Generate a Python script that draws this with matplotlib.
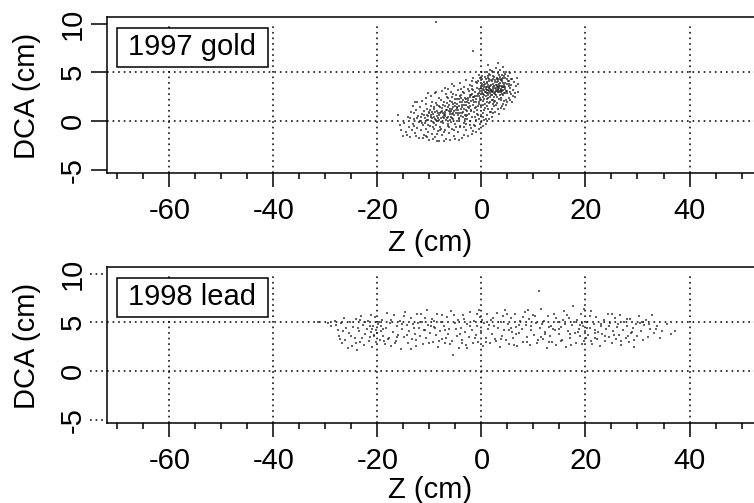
import matplotlib
matplotlib.use('Agg')
import matplotlib.pyplot as plt
from matplotlib.ticker import MultipleLocator

plt.rcParams['font.family'] = ['Liberation Sans', 'DejaVu Sans']
plt.rcParams['axes.unicode_minus'] = False

gold_points = [
    (-16.0,0.6),(-15.4,-0.9),(-15.1,-1.5),(-14.8,-0.2),(-14.6,-1.1),(-14.2,0.4),(-14.0,-0.6),(-13.7,-1.6),
    (-13.5,0.9),(-13.2,-0.3),(-13.0,0.2),(-12.8,-1.2),(-12.6,1.1),(-12.4,-0.7),(-12.2,0.5),(-12.1,-0.1),
    (-12.0,-1.7),(-11.8,1.4),(-11.7,0.0),(-11.6,-0.9),(-11.4,0.7),(-11.3,-0.4),(-11.1,1.0),(-11.0,-1.4),
    (-10.9,0.3),(-10.8,-0.2),(-10.7,1.7),(-10.6,-0.8),(-10.5,0.6),(-10.4,1.2),(-10.3,-1.1),(-10.2,0.1),
    (-10.1,-1.9),(-10.0,0.9),(-9.9,-0.5),(-9.8,1.5),(-9.7,0.4),(-9.6,-1.3),(-9.5,2.0),(-9.4,-0.1),
    (-9.3,0.7),(-9.2,-0.8),(-9.1,1.2),(-9.0,0.2),(-8.9,-1.6),(-8.8,1.8),(-8.7,-0.4),(-8.6,0.5),
    (-8.5,1.0),(-8.4,-1.0),(-8.3,0.0),(-8.2,1.5),(-8.1,-2.1),(-8.0,0.8),(-7.9,-0.6),(-7.8,2.2),
    (-7.7,0.3),(-7.6,-1.4),(-7.5,1.3),(-7.4,-0.2),(-7.3,0.6),(-7.2,1.9),(-7.1,-0.9),(-7.0,0.9),
    (-6.9,-1.8),(-6.8,0.1),(-6.7,2.5),(-6.6,1.1),(-6.5,-0.5),(-6.4,0.4),(-6.3,1.6),(-6.2,-1.2),
    (-6.1,0.7),(-6.0,2.1),(-5.9,-0.1),(-5.8,1.0),(-5.7,-0.8),(-5.6,0.3),(-5.5,1.4),(-5.4,2.8),
    (-5.3,-1.5),(-5.2,0.6),(-5.1,1.8),(-5.0,-0.3),(-4.9,1.1),(-4.8,0.0),(-4.7,2.3),(-4.6,0.8),
    (-4.5,-1.1),(-4.4,1.5),(-4.3,0.3),(-4.2,2.6),(-4.1,-0.6),(-4.0,1.2),(-3.9,0.5),(-3.8,2.0),
    (-3.7,-1.7),(-3.6,0.9),(-3.5,3.0),(-3.4,1.6),(-3.3,-0.2),(-3.2,0.6),(-3.1,2.4),(-3.0,1.1),
    (-2.9,-0.9),(-2.8,1.9),(-2.7,0.2),(-2.6,3.3),(-2.5,1.4),(-2.4,0.7),(-2.3,2.7),(-2.2,-0.4),
    (-2.1,1.0),(-2.0,2.1),(-1.9,0.4),(-1.8,3.6),(-1.7,1.6),(-1.6,-1.0),(-1.5,2.5),(-1.4,0.9),
    (-1.3,3.0),(-1.2,1.3),(-1.1,0.1),(-1.0,2.0),(-0.9,3.9),(-0.8,1.1),(-0.7,2.8),(-0.6,0.6),
    (-0.5,3.3),(-0.4,1.7),(-0.3,-0.3),(-0.2,2.4),(-0.1,4.2),(0.0,1.4),(0.1,3.1),(0.2,2.1),
    (0.3,0.8),(0.4,3.7),(0.5,2.7),(0.6,1.7),(0.7,4.5),(0.8,3.3),(0.9,0.2),(1.0,2.3),
    (1.1,3.9),(1.2,1.2),(1.3,2.9),(1.4,4.8),(1.5,3.5),(1.6,1.9),(1.7,2.5),(1.8,4.2),
    (1.9,0.9),(2.0,3.1),(2.1,5.1),(2.2,3.8),(2.3,2.2),(2.4,1.5),(2.5,4.5),(2.6,3.4),
    (2.7,5.4),(2.8,2.7),(2.9,4.0),(3.0,1.8),(3.1,3.0),(3.2,4.9),(3.3,3.6),(3.4,2.3),
    (3.5,5.2),(3.6,4.3),(3.7,1.3),(3.8,3.2),(3.9,2.8),(4.0,4.7),(4.1,3.9),(4.2,5.5),
    (4.3,2.1),(4.4,3.5),(4.5,4.4),(4.6,2.9),(4.7,5.0),(4.8,1.6),(4.9,3.8),(5.0,3.1),
    (5.1,4.6),(5.2,2.4),(5.3,4.1),(5.4,3.4),(5.5,4.9),(5.6,2.8),(5.7,3.7),(5.8,1.9),
    (5.9,4.3),(6.0,3.2),(6.2,4.0),(6.4,2.5),(6.6,3.6),(6.8,4.4),(7.1,3.8),(7.0,3.0),
    (-8.7,10.2),(-1.6,7.2),(3.2,6.0),(1.2,5.7),
]

gold_dense = [
    (-7.33,1.62),(-4.18,-0.47),(0.62,2.93),(-9.41,-0.63),(2.87,3.12),(-1.23,0.38),(3.44,4.71),(-6.08,1.27),
    (1.13,1.58),(-3.27,2.83),(-11.36,-0.17),(4.62,3.51),(-0.38,1.92),(-5.22,-0.92),(2.26,4.62),(-8.14,0.12),
    (0.17,3.58),(-2.61,2.34),(5.23,3.83),(-6.93,0.72),(1.76,3.14),(-4.73,1.73),(3.08,2.48),(-10.12,0.83),
    (-0.83,3.42),(-3.16,0.18),(2.54,2.76),(-7.72,-0.78),(4.17,4.43),(-1.92,1.18),(0.93,4.28),(-5.58,2.42),
    (3.72,2.18),(-9.04,1.41),(-2.24,0.03),(1.41,3.38),(-6.41,-0.28),(2.93,4.32),(-0.12,0.62),(-4.36,2.28),
    (5.61,4.27),(-7.98,1.48),(0.48,1.12),(-3.83,1.43),(1.96,2.18),(-12.41,0.27),(3.27,3.29),(-1.58,3.14),
    (-5.84,0.42),(4.38,2.84),(-8.47,-1.31),(0.84,2.61),(-2.78,1.07),(2.12,4.06),(-6.67,1.84),(3.91,3.44),
    (-0.57,2.57),(-4.52,0.62),(1.28,4.58),(-9.62,0.61),(2.68,2.03),(-3.41,-0.62),(0.07,3.84),(-7.14,0.29),
    (4.83,4.33),(-1.13,2.28),(-5.03,1.58),(1.62,2.84),(3.53,3.06),(-8.92,0.93),(-2.07,2.63),(0.36,0.44),
    (2.41,3.62),(-6.27,-0.63),(-3.92,2.41),(4.07,2.72),(-0.94,0.73),(1.07,3.46),(-10.63,-1.52),(3.16,4.13),
    (-4.97,2.62),(-7.56,1.07),(2.03,1.28),(-1.73,2.81),(0.71,3.77),(5.42,3.02),(-5.43,0.87),(-2.49,1.82),
    (3.36,3.83),(-8.26,0.57),(1.52,4.12),(-0.22,3.06),(-3.57,0.43),(4.46,3.27),(-6.53,1.44),(2.32,2.88),
    (-11.08,0.66),(0.26,2.46),(-4.08,1.91),(1.87,3.72),(3.63,4.52),(-2.93,-0.27),(-7.86,-0.13),(0.53,4.02),
    (-1.48,1.94),(2.77,3.27),(-5.31,1.04),(4.24,3.73),(-9.18,-0.24),(1.33,2.32),(-3.06,1.67),(5.04,4.13),
    (-0.66,4.06),(-6.03,0.08),(2.16,1.72),(3.83,2.37),(-4.62,1.33),(0.98,1.93),(-8.58,1.62),(-2.36,3.04),
    (1.68,4.73),(3.12,3.52),(-7.22,-1.12),(-1.04,1.41),(4.71,3.07),(-5.76,1.93),(0.43,3.22),(2.58,4.21),
    (-3.71,0.83),(-10.47,0.07),(1.21,2.72),(-0.47,0.21),(3.47,2.67),(-6.81,1.17),(2.24,3.33),(-4.26,0.23),
    (0.72,1.37),(-12.93,-0.53),(4.53,4.82),(-2.18,1.52),(1.47,3.04),(-8.03,-0.93),(2.86,1.62),(-5.12,2.23),
    (-0.28,2.18),(3.24,3.18),(-9.83,1.08),(-3.33,1.22),(1.92,2.64),(0.12,4.63),(-6.36,2.38),(4.12,3.22),
    (-1.36,-0.42),(2.47,2.42),(-7.43,0.43),(3.58,3.93),(-4.83,-0.63),(0.88,3.53),(-2.56,2.12),(5.33,3.62),
    (1.03,2.83),(-11.62,0.44),(-0.73,1.58),(2.62,3.97),(-5.67,1.23),(3.33,2.93),(-3.02,0.52),(4.93,2.92),
    (-8.38,0.82),(1.37,1.83),(-1.81,3.33),(0.24,1.63),(-6.13,0.93),(2.98,4.46),(-4.42,1.12),(3.97,3.13),
    (-2.71,0.63),(1.58,3.58),(-9.53,0.33),(-0.03,3.37),(4.33,4.58),(-7.04,1.58),(2.07,2.93),(-3.52,2.12),
    (0.57,2.21),(-5.47,0.24),(3.76,4.17),(-1.67,2.17),(-10.28,-0.37),(1.16,4.38),(2.36,1.97),(-4.03,2.72),
]

# upper-left and lower-right edges of the ellipse, plus more of the core
gold_edges = [
    (-13.2,1.5),(-12.3,1.9),(-11.4,2.1),(-10.6,2.4),(-9.7,2.6),(-9.0,2.9),(-8.2,2.4),(-7.5,3.1),
    (-6.9,2.8),(-6.4,3.3),(-5.8,3.0),(-5.2,3.6),(-4.6,3.2),(-4.1,3.9),(-3.4,3.5),(-2.9,4.2),
    (-2.3,3.7),(-1.6,4.4),(-1.1,4.0),(-0.5,4.7),(0.1,4.3),(0.6,5.0),(1.7,5.2),(2.4,5.0),
    (-12.7,2.0),(-10.2,2.9),(-8.7,3.0),(-7.1,3.4),(-5.6,3.8),(-3.9,3.3),(-1.9,4.1),(-0.3,4.4),
    (-6.0,-1.9),(-5.1,-1.8),(-4.4,-1.9),(-3.4,-1.4),(-2.6,-1.5),(-1.9,-1.3),(-1.1,-1.1),(-0.5,-0.8),
    (0.2,-0.5),(0.8,-0.3),(1.4,0.2),(2.0,0.4),(2.6,0.9),(3.3,0.7),(3.9,1.5),(4.4,1.2),
    (5.0,1.9),(5.5,2.2),(6.1,2.6),(6.5,2.9),(-7.3,-2.0),(-8.6,-2.1),(-9.3,-1.8),(-2.0,-0.7),
    (-1.3,-0.5),(0.5,0.1),(1.1,0.6),(1.7,0.9),(2.3,0.8),(3.1,1.2),(4.1,1.7),(4.7,2.2),
    (-13.8,0.3),(-14.4,-1.4),(-12.6,-1.5),(-11.3,-1.7),(-10.4,-1.6),(-13.3,-0.9),(-15.7,-0.4),(-12.9,0.8),
    (0.31,3.27),(1.22,3.73),(2.17,3.47),(3.02,3.73),(3.87,3.62),(0.78,3.02),(1.73,3.33),(2.66,3.02),
    (3.41,3.42),(4.03,4.07),(0.04,2.84),(1.04,4.01),(2.09,2.72),(2.92,3.52),(3.68,2.96),(4.47,3.87),
    (0.51,3.47),(1.44,4.27),(2.31,4.27),(3.21,4.33),(3.93,4.33),(-0.14,3.62),(0.97,3.22),(1.83,3.03),
    (2.73,3.67),(3.52,3.61),(4.22,3.44),(0.27,2.77),(1.26,3.17),(2.22,3.13),(3.04,3.07),(3.78,3.27),
    (-0.86,2.53),(-1.64,2.42),(-2.42,1.32),(-3.22,1.92),(-4.14,0.87),(-4.93,0.83),(-5.71,0.67),(-6.58,0.33),
    (-7.47,0.83),(-8.33,0.33),(-9.22,0.43),(-10.36,0.47),(-0.43,2.87),(-1.27,2.53),(-2.12,2.47),(-3.04,2.27),
    (-3.78,1.67),(-4.67,1.47),(-5.42,1.73),(-6.23,1.04),(-7.02,0.47),(-7.84,0.97),(-8.74,0.13),(-9.47,0.93),
]

lead_points = [
    (-31.5,5.0),(-29.6,4.9),(-29.0,4.6),(-28.2,5.1),(-27.6,4.2),(-27.3,3.6),(-27.0,4.9),(-26.8,2.9),
    (-26.5,5.4),(-26.2,3.2),(-26.0,4.4),(-25.7,2.4),(-25.5,3.9),(-25.2,5.0),(-24.9,2.6),(-24.7,4.5),
    (-24.4,3.4),(-24.2,5.3),(-23.9,2.2),(-23.6,4.1),(-23.4,3.0),(-23.1,5.6),(-22.8,4.7),(-22.6,2.7),
    (-22.3,3.8),(-22.0,4.3),(-21.8,5.1),(-21.5,3.5),(-21.3,4.0),(-21.0,2.5),(-20.8,4.6),(-20.6,3.7),
    (-20.4,5.5),(-20.2,4.2),(-20.0,3.9),(-19.8,4.8),(-19.6,3.2),(-19.4,4.1),(-19.1,5.2),(-18.9,3.6),
    (-18.6,2.8),(-18.4,4.4),(-18.1,6.0),(-17.8,3.4),(-17.6,4.9),(-17.3,2.6),(-17.1,4.0),(-16.8,5.7),
    (-16.5,3.1),(-16.3,4.6),(-16.0,3.7),(-15.7,5.1),(-15.5,2.3),(-15.2,4.3),(-14.9,3.5),(-14.7,6.1),
    (-14.4,4.7),(-14.1,2.9),(-13.9,4.1),(-13.6,5.4),(-13.3,3.3),(-13.1,4.8),(-12.8,3.8),(-12.5,2.6),
    (-12.3,5.8),(-12.0,4.4),(-11.8,3.6),(-11.5,5.0),(-11.2,2.8),(-11.0,4.2),(-10.7,3.4),(-10.4,6.3),
    (-10.2,4.7),(-9.9,3.9),(-9.6,5.3),(-9.4,3.0),(-9.1,4.5),(-8.8,3.7),(-8.6,5.9),(-8.3,2.5),
    (-8.0,4.1),(-7.8,5.0),(-7.5,3.3),(-7.2,4.6),(-7.0,2.9),(-6.7,5.5),(-6.4,3.8),(-6.2,4.3),
    (-5.9,6.2),(-5.6,3.1),(-5.4,1.6),(-5.1,4.9),(-4.8,3.6),(-4.6,5.2),(-4.3,2.4),(-4.0,4.4),
    (-3.8,3.2),(-3.5,5.7),(-3.2,4.0),(-3.0,2.7),(-2.7,4.8),(-2.4,3.5),(-2.2,6.1),(-1.9,4.2),
    (-1.6,2.9),(-1.4,5.1),(-1.1,3.7),(-0.8,4.6),(-0.6,3.0),(-0.3,5.5),(0.0,4.1),(0.3,2.6),
    (0.5,4.9),(0.8,3.4),(1.1,5.9),(1.3,4.3),(1.6,2.9),(1.9,5.2),(2.1,3.8),(2.4,4.6),
    (2.7,3.1),(2.9,6.0),(3.2,4.4),(3.5,2.5),(3.7,5.0),(4.0,3.6),(4.3,4.2),(4.5,6.3),
    (4.8,3.2),(5.1,4.8),(5.3,2.8),(5.6,5.4),(5.9,4.0),(6.1,3.4),(6.4,5.8),(6.7,4.5),
    (6.9,2.6),(7.2,3.9),(7.5,5.1),(7.7,4.3),(8.0,3.0),(8.3,6.1),(8.5,4.7),(8.8,3.5),
    (9.1,5.3),(9.3,2.7),(9.6,4.2),(9.9,5.7),(10.1,3.7),(10.4,4.9),(10.7,2.9),(11.0,8.2),
    (11.2,4.4),(11.5,6.4),(11.8,3.3),(12.0,5.1),(12.3,4.0),(12.6,2.4),(12.8,5.6),(13.1,3.6),
    (13.4,4.6),(13.6,3.0),(13.9,5.9),(14.2,4.2),(14.4,2.7),(14.7,5.0),(15.0,3.8),(15.2,4.5),
    (15.5,3.2),(15.8,6.2),(16.0,4.8),(16.3,2.5),(16.6,4.1),(16.8,5.4),(17.1,3.4),(17.4,4.7),
    (17.6,6.7),(17.9,3.9),(18.2,2.9),(18.4,5.2),(18.7,4.3),(19.0,3.6),(19.2,5.8),(19.5,4.6),
    (19.8,3.1),(20.0,4.1),(20.3,5.0),(20.5,3.7),(20.8,4.4),(21.1,6.2),(21.3,2.8),(21.6,4.8),
    (21.9,3.4),(22.1,5.5),(22.4,4.0),(22.7,2.6),(22.9,4.6),(23.2,3.8),(23.5,5.2),(23.7,3.1),
    (24.0,4.3),(24.3,5.9),(24.5,3.5),(24.8,4.9),(25.1,2.9),(25.3,4.1),(25.6,5.4),(25.9,3.3),
    (26.1,4.5),(26.4,3.7),(26.7,5.7),(26.9,2.7),(27.2,4.2),(27.5,5.0),(27.7,3.4),(28.0,4.6),
    (28.3,3.0),(28.5,5.3),(28.8,3.9),(29.1,4.4),(29.4,2.5),(29.7,4.8),(30.0,3.6),(30.3,5.6),
    (30.6,4.1),(31.0,3.2),(31.3,4.7),(31.7,5.2),(32.0,3.5),(32.4,4.3),(32.8,5.7),(33.2,3.9),
    (33.7,4.6),(34.3,3.4),(34.8,4.1),(35.6,4.8),(36.4,3.8),(37.3,4.1),
]

lead_extra = [
    (-21.63,3.12),(14.27,5.46),(-8.93,4.38),(26.81,3.04),(-17.42,5.22),(3.66,3.27),(20.91,5.62),(-25.07,3.63),
    (9.47,4.63),(-3.38,5.31),(17.22,2.63),(-12.66,3.17),(30.48,4.94),(-19.27,4.57),(6.58,3.76),(-6.03,2.73),
    (23.06,4.83),(-14.83,5.63),(0.94,3.02),(12.17,3.83),(-22.43,5.04),(27.93,5.37),(-0.47,6.22),(18.53,4.03),
    (-10.07,2.84),(5.72,4.42),(-27.18,3.27),(15.33,3.07),(-4.92,4.28),(21.77,3.93),(-16.17,3.48),(10.28,5.68),
    (2.27,5.47),(-20.23,2.97),(29.24,3.23),(-7.63,5.71),(13.74,4.27),(-13.47,2.27),(7.93,5.52),(24.56,4.58),
    (-1.27,3.36),(-23.72,4.37),(19.37,2.73),(-9.22,5.12),(4.14,5.63),(32.17,4.84),(-18.76,3.09),(11.38,3.44),
    (-11.62,5.87),(25.44,3.72),(-2.84,2.36),(16.47,5.73),(-26.63,4.07),(8.67,2.93),(22.24,3.27),(-15.36,4.82),
    (1.47,4.73),(28.17,3.62),(-6.87,3.43),(14.91,4.36),(-21.27,5.73),(6.27,2.64),(-12.17,4.97),(20.17,3.38),
    (-4.17,3.82),(17.83,5.07),(-24.18,2.83),(10.83,3.17),(-0.92,5.83),(26.27,4.87),(-17.93,3.27),(4.93,5.87),
    (33.47,4.27),(-8.07,3.07),(12.93,4.47),(-19.63,5.04),(23.82,3.57),(-5.27,5.73),(18.94,4.67),(-14.27,3.72),
    (2.63,3.33),(-22.93,3.43),(30.92,5.03),(-10.83,5.43),(7.17,4.74),(15.72,5.23),(-3.67,2.83),(21.06,3.03),
    (-27.94,4.67),(9.03,6.26),(-16.72,2.84),(25.03,5.87),(-2.13,4.62),(13.02,2.93),(-20.73,3.58),(5.36,4.17),
    (28.94,4.02),(-7.07,4.23),(16.93,3.84),(-13.04,4.37),(0.17,5.23),(19.73,6.37),(-23.33,5.27),(11.73,4.83),
    (20.37,4.43),(-20.97,4.27),(-19.02,4.33),(-21.46,4.63),(19.28,4.93),(21.82,4.23),(-9.73,4.64),(-10.93,4.24),
]

panel_labels = ['1997 gold', '1998 lead']
x_major = [-60, -40, -20, 0, 20, 40]
y_major = [-5, 0, 5, 10]

fig = plt.figure(figsize=(7.54, 5.03), dpi=100)
W, H = 754.0, 503.0


def make_panel(top_px, points, label, solid_yticks):
    ax = fig.add_axes([107/W, 1 - (top_px + 156)/H, (754 - 107)/W, 156/H])
    ax.set_xlim(-72, 52.4)
    ax.set_ylim(-5.3, 10.7)
    ax.spines['right'].set_visible(False)
    for s in ['left', 'top', 'bottom']:
        ax.spines[s].set_linewidth(1.1)

    dots = dict(color='black', lw=1.1, dashes=(1.1, 2.55), zorder=1)
    for x in x_major:
        ax.plot([x, x], [-5.3, 10], **dots)
    for y in [0, 5]:
        ax.axhline(y, **dots)

    ax.scatter([p[0] for p in points], [p[1] for p in points], s=0.6, marker='s',
               color='#222222', alpha=0.7, linewidths=0, zorder=2)

    ax.xaxis.set_major_locator(MultipleLocator(20))
    ax.xaxis.set_minor_locator(MultipleLocator(5))
    ax.tick_params(axis='x', which='major', length=10, width=1.1, labelsize=21, pad=7.3)
    ax.tick_params(axis='x', which='minor', length=4.5, width=1.1)
    ax.set_yticks(y_major)
    for t in ax.get_yticklabels():
        t.set_rotation(90)
        t.set_va('center')
    if solid_yticks:
        ax.tick_params(axis='y', length=11.5, width=1.1, labelsize=21, pad=3)
    else:
        ax.tick_params(axis='y', length=0, labelsize=21, pad=14.5)
        for y in y_major:
            ax.plot([-75.2, -72], [y, y], clip_on=False, **dots)

    box_x = (116.7 - 107)/5.2 - 72
    box_y = 10.7 - (28 - 16.7)/9.76
    ax.add_patch(plt.Rectangle((box_x, box_y - 39/9.76), 151.3/5.2, 39/9.76, fc='white', ec='black',
                               lw=1.1, zorder=4))
    ax.text(-55.7, 7.6, label, fontsize=21, ha='center', va='center', zorder=5)
    return ax


make_panel(16.7, gold_points + gold_dense + gold_edges, panel_labels[0], True)
make_panel(266.7, lead_points + lead_extra, panel_labels[1], False)

fig.text(27/W, 1 - 96/H, 'DCA (cm)', rotation=90, fontsize=21, ha='center', va='center')
fig.text(27/W, 1 - 346/H, 'DCA (cm)', rotation=90, fontsize=21, ha='center', va='center')
fig.text(430/W, 1 - 243/H, 'Z (cm)', fontsize=21, ha='center', va='center')
fig.text(430/W, 1 - 490/H, 'Z (cm)', fontsize=21, ha='center', va='center')

fig.savefig('out.png', dpi=100)
